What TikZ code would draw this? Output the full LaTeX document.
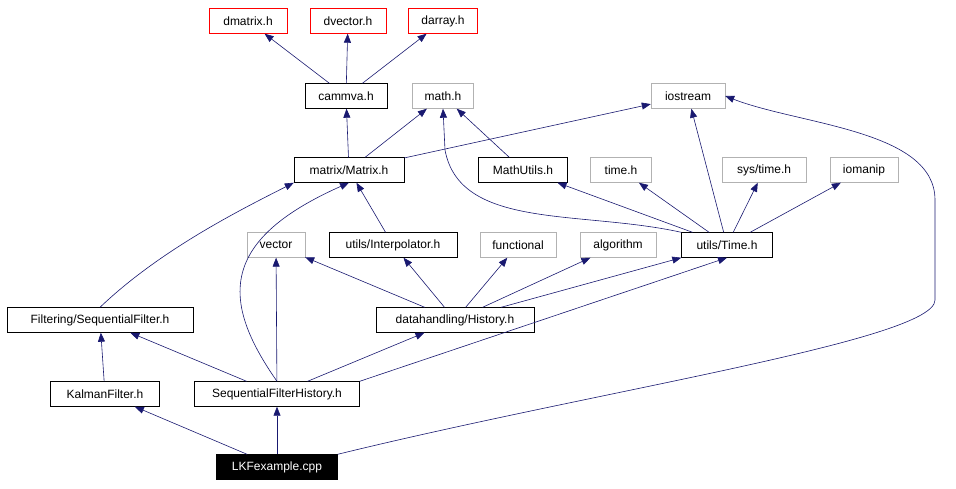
\documentclass[tikz,border=0pt]{standalone}
\usepackage{fontspec}
\setmainfont{Liberation Sans}
\usetikzlibrary{arrows.meta}
\definecolor{edgeblue}{RGB}{25,25,112}
\tikzset{
  file/.style={draw=black,rectangle,minimum height=25pt,inner xsep=2pt,font=\fontsize{12pt}{14pt}\selectfont},
  missing/.style={file,draw=black!30},
  extern/.style={file,draw=red},
  main/.style={file,fill=black,text=white},
  dep/.style={-{Triangle[length=9pt,width=7pt]},draw=edgeblue,line width=0.6pt}
}
\begin{document}
\begin{tikzpicture}[x=1pt,y=-1pt]
  \useasboundingbox (0,0) rectangle (956,489);
  \node[extern,minimum width=78pt] (dmatrix) at (248,21) {dmatrix.h};
  \node[extern,minimum width=76pt] (dvector) at (348,21) {dvector.h};
  \node[extern,minimum width=69pt] (darray) at (443,21) {darray.h};
  \node[file,minimum width=82pt] (cammva) at (346,96) {cammva.h};
  \node[missing,minimum width=61pt] (math) at (443,96) {math.h};
  \node[missing,minimum width=74pt] (iostream) at (688,96) {iostream};
  \node[file,minimum width=110pt] (Matrix) at (349,170) {matrix/Matrix.h};
  \node[file,minimum width=89pt] (MathUtils) at (523,170) {MathUtils.h};
  \node[missing,minimum width=61pt] (time) at (621,170) {time.h};
  \node[missing,minimum width=84pt] (systime) at (764,170) {sys/time.h};
  \node[missing,minimum width=68pt] (iomanip) at (864,170) {iomanip};
  \node[missing,minimum width=58pt] (vector) at (276,245) {vector};
  \node[file,minimum width=128pt] (Interpolator) at (393,245) {utils/Interpolator.h};
  \node[missing,minimum width=76pt] (functional) at (518,245) {functional};
  \node[missing,minimum width=76pt] (algorithm) at (618,245) {algorithm};
  \node[file,minimum width=91pt] (Time) at (727,245) {utils/Time.h};
  \node[file,minimum width=186pt] (SeqFilter) at (100,320) {Filtering/SequentialFilter.h};
  \node[file,minimum width=158pt] (History) at (455,320) {datahandling/History.h};
  \node[file,minimum width=109pt] (Kalman) at (105,394) {KalmanFilter.h};
  \node[file,minimum width=165pt] (SFHistory) at (277,394) {SequentialFilterHistory.h};
  \node[main,minimum width=121pt] (LKF) at (277,467) {LKFexample.cpp};
  % main file
  \draw[dep] (LKF) -- (Kalman);
  \draw[dep] (LKF) -- (SFHistory);
  \draw[dep] (LKF.north east) .. controls (600,390) and (935,340) .. (935,300)
    -- (935,200) .. controls (935,130) and (800,125) .. (iostream.east);
  % filters
  \draw[dep] (Kalman) -- (SeqFilter);
  \draw[dep] (SeqFilter.north) .. controls (160,250) and (240,210) .. (Matrix.south west);
  \draw[dep] (SFHistory) -- (SeqFilter);
  \draw[dep] (SFHistory) -- (History);
  \draw[dep] (SFHistory.north) .. controls (220,300) and (220,240) .. (Matrix.south);
  \draw[dep] (SFHistory) -- (vector);
  \draw[dep] (SFHistory.north east) -- (Time.south);
  % history
  \draw[dep] (History) -- (vector);
  \draw[dep] (History) -- (Interpolator);
  \draw[dep] (History) -- (functional);
  \draw[dep] (History) -- (algorithm);
  \draw[dep] (History) -- (Time.south west);
  \draw[dep] (Interpolator) -- (Matrix);
  % time
  \draw[dep] (Time.north west) .. controls (580,210) and (460,230) .. (445,150) -- (math.south);
  \draw[dep] (Time) -- (MathUtils);
  \draw[dep] (Time) -- (time);
  \draw[dep] (Time) -- (systime);
  \draw[dep] (Time) -- (iomanip);
  \draw[dep] (Time) -- (iostream);
  % matrix
  \draw[dep] (Matrix) -- (cammva);
  \draw[dep] (Matrix) -- (math);
  \draw[dep] (Matrix) -- (iostream);
  \draw[dep] (MathUtils) -- (math);
  \draw[dep] (cammva) -- (dmatrix);
  \draw[dep] (cammva) -- (dvector);
  \draw[dep] (cammva) -- (darray);
\end{tikzpicture}
\end{document}
